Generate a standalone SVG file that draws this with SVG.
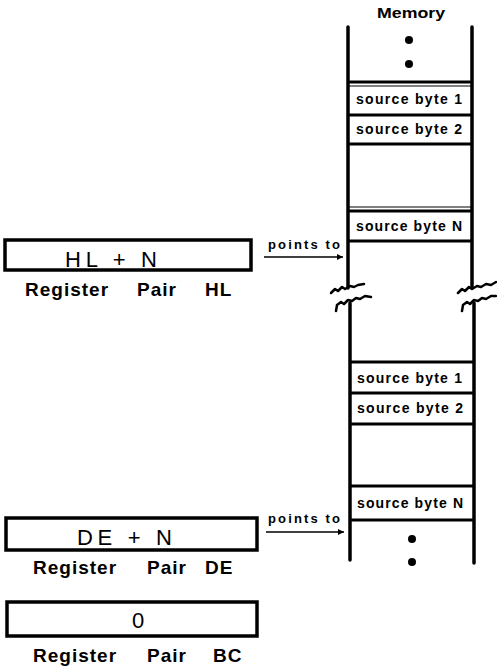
<svg xmlns="http://www.w3.org/2000/svg" width="497" height="669" viewBox="0 0 497 669">
<defs>
<style>
.bx{fill:none;stroke:#000;stroke-width:3.5}
.ln{stroke:#000;stroke-width:3.5;stroke-linecap:round;fill:none}
.hl{stroke:#000;stroke-width:3;fill:none}
.th{stroke:#000;stroke-width:1;fill:none}
.sq{stroke:#000;stroke-width:2.5;fill:none;stroke-linejoin:round;stroke-linecap:round}
.val{font-family:"Liberation Sans",Arial,sans-serif;font-size:22px;fill:#000}
.lab{font-family:"Liberation Sans",Arial,sans-serif;font-size:19px;font-weight:bold;letter-spacing:1px;fill:#000}
.sb{font-family:"Liberation Sans",Arial,sans-serif;font-size:14px;font-weight:bold;fill:#000}
.pt{font-family:"Liberation Sans",Arial,sans-serif;font-size:13px;font-weight:bold;fill:#000}
.arr{stroke:#000;stroke-width:1.5;fill:none}
</style>
<marker id="ah" viewBox="0 0 10 10" refX="10" refY="5" markerWidth="9" markerHeight="6" markerUnits="userSpaceOnUse" orient="auto">
<path d="M0,0 L10,5 L0,10 z" fill="#000"/>
</marker>
</defs>

<g id="memory">
<text class="sb" x="377" y="18" textLength="68" lengthAdjust="spacingAndGlyphs" style="font-size:15.5px">Memory</text>
<line class="ln" x1="348" y1="27" x2="348" y2="288"/>
<line class="ln" x1="472" y1="27" x2="472" y2="288"/>
<circle cx="409" cy="40" r="4"/>
<circle cx="409" cy="64" r="4"/>
<line class="hl" x1="348" y1="82" x2="472" y2="82"/>
<line class="th" x1="348" y1="86" x2="472" y2="86"/>
<line class="hl" x1="348" y1="115" x2="472" y2="115"/>
<line class="hl" x1="348" y1="144" x2="472" y2="144"/>
<line class="th" x1="348" y1="207" x2="472" y2="207"/>
<line class="hl" x1="348" y1="211" x2="472" y2="211"/>
<line class="hl" x1="348" y1="241" x2="472" y2="241"/>
<text class="sb" x="356" y="104" textLength="106" lengthAdjust="spacing">source byte 1</text>
<text class="sb" x="356" y="134" textLength="106" lengthAdjust="spacing">source byte 2</text>
<text class="sb" x="356" y="231" textLength="106" lengthAdjust="spacing">source byte N</text>

<path class="sq" d="M331,293 L335,289 L338,291 L342,287 L345,289 L350,286 L354,287 L358,285 L364,284"/>
<path class="sq" d="M336,311 L337,305 L341,302 L344,304 L348,300 L352,301 L356,298 L360,299 L365,296 L371,297"/>
<path class="sq" d="M458,293 L462,289 L465,291 L469,287 L472,289 L477,286 L481,287 L486,284 L491,285 L496,282"/>
<path class="sq" d="M462,311 L463,305 L467,302 L470,304 L474,300 L478,301 L482,298 L486,299 L491,296 L496,296"/>

<line class="ln" x1="350" y1="303" x2="350" y2="560"/>
<line class="ln" x1="474" y1="303" x2="474" y2="563"/>
<line class="hl" x1="350" y1="362" x2="474" y2="362"/>
<line class="hl" x1="350" y1="393" x2="474" y2="393"/>
<line class="hl" x1="350" y1="424" x2="474" y2="424"/>
<line class="hl" x1="350" y1="486" x2="474" y2="486"/>
<line class="hl" x1="350" y1="520" x2="474" y2="520"/>
<text class="sb" x="357" y="383" textLength="105" lengthAdjust="spacing">source byte 1</text>
<text class="sb" x="357" y="413" textLength="106" lengthAdjust="spacing">source byte 2</text>
<text class="sb" x="357" y="508" textLength="106" lengthAdjust="spacing">source byte N</text>
<circle cx="412" cy="539" r="4"/>
<circle cx="412" cy="562" r="4"/>
</g>

<g id="hl">
<rect class="bx" x="5" y="240" width="246" height="30"/>
<text class="val" x="65" y="267" textLength="92" lengthAdjust="spacing">HL + N</text>
<text class="lab"><tspan x="25" y="296">Register</tspan><tspan x="137" y="296">Pair</tspan><tspan x="205" y="296">HL</tspan></text>
</g>

<g id="de">
<rect class="bx" x="6" y="518" width="251" height="32"/>
<text class="val" x="77" y="545" textLength="95" lengthAdjust="spacing">DE + N</text>
<text class="lab"><tspan x="33" y="574">Register</tspan><tspan x="147" y="574">Pair</tspan><tspan x="205" y="574">DE</tspan></text>
</g>

<g id="bc">
<rect class="bx" x="7" y="602" width="250" height="34"/>
<text class="val" x="138" y="628" text-anchor="middle">0</text>
<text class="lab"><tspan x="33" y="662">Register</tspan><tspan x="147" y="662">Pair</tspan><tspan x="213" y="662">BC</tspan></text>
</g>

<g id="connectors">
<text class="pt" x="268" y="249" textLength="72" lengthAdjust="spacing">points to</text>
<line class="arr" x1="264" y1="257" x2="343" y2="257" marker-end="url(#ah)"/>
<text class="pt" x="268" y="523" textLength="72" lengthAdjust="spacing">points to</text>
<line class="arr" x1="266" y1="532" x2="344" y2="532" marker-end="url(#ah)"/>
</g>
</svg>
